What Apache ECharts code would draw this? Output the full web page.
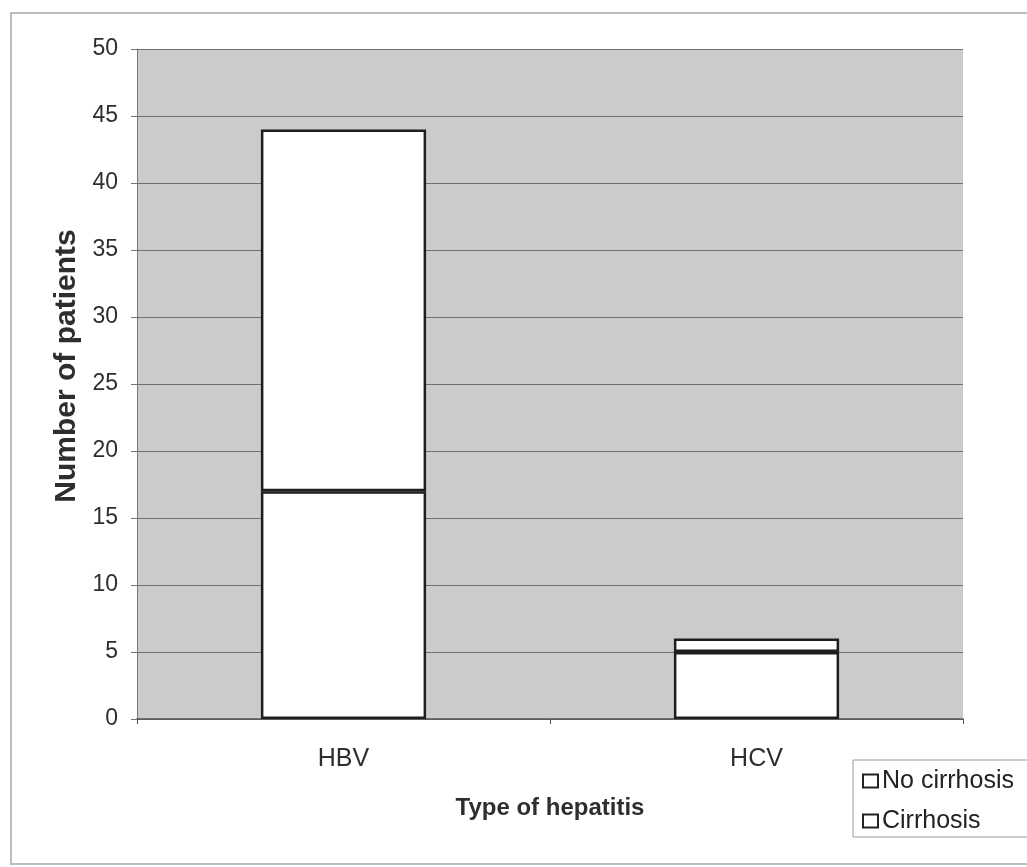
<!DOCTYPE html>
<html>
<head>
<meta charset="utf-8">
<script src="https://cdn.jsdelivr.net/npm/echarts@6/dist/echarts.min.js"></script>
<style>
html,body{margin:0;padding:0;background:#fff;}
#chart{width:1027px;height:867px;}
</style>
</head>
<body>
<div id="chart"></div>
<script>
const categories = ['HBV', 'HCV'];
const cirrhosis = [17, 5];
const noCirrhosis = [27, 1];
const yTicks = [0, 5, 10, 15, 20, 25, 30, 35, 40, 45, 50];

const chart = echarts.init(document.getElementById('chart'));
const font = 'Liberation Sans, Arial, sans-serif';
const barStyle = {color: '#ffffff', borderColor: '#1e1e1e', borderWidth: 2.5};
chart.setOption({
  animation: false,
  backgroundColor: '#ffffff',
  graphic: [{
    type: 'rect', z: -10,
    shape: {x: 11, y: 13, width: 1040, height: 851},
    style: {fill: 'none', stroke: '#bdbdbd', lineWidth: 2}
  }],
  grid: {left: 137, right: 64, top: 49, bottom: 148,
    show: true, backgroundColor: '#cbcbcb', borderWidth: 0},
  legend: {
    orient: 'vertical', left: 853, top: 760,
    data: ['No cirrhosis', 'Cirrhosis'],
    icon: 'rect', itemWidth: 15, itemHeight: 13, itemGap: 12,
    padding: [7, 14, 2, 9],
    borderColor: '#9a9a9a', borderWidth: 1, backgroundColor: '#fff',
    textStyle: {fontFamily: font, fontSize: 25, lineHeight: 28, color: '#222', padding: [0, 0, 0, -1]},
    itemStyle: {color: '#fff', borderColor: '#222', borderWidth: 2}
  },
  xAxis: {
    type: 'category', data: categories,
    name: 'Type of hepatitis', nameLocation: 'middle', nameGap: 77,
    nameTextStyle: {fontFamily: font, fontSize: 24, fontWeight: 'bold', color: '#2e2e2e'},
    axisLine: {show: true, lineStyle: {color: '#555', width: 1.5}},
    axisTick: {show: true, length: 5, lineStyle: {color: '#555'}},
    axisLabel: {fontFamily: font, fontSize: 25, color: '#2e2e2e', margin: 28}
  },
  yAxis: {
    type: 'value', min: 0, max: 50, interval: 5,
    name: 'Number of patients', nameLocation: 'middle', nameGap: 50,
    nameTextStyle: {fontFamily: font, fontSize: 30, fontWeight: 'bold', color: '#2e2e2e', padding: [0, 0, 0, 36]},
    axisLine: {show: true, lineStyle: {color: '#777', width: 1}},
    axisTick: {show: true, length: 6, lineStyle: {color: '#777'}},
    axisLabel: {fontFamily: font, fontSize: 23, color: '#2e2e2e', margin: 19,
      formatter: v => yTicks.includes(v) ? String(v) : ''},
    splitLine: {show: true, lineStyle: {color: '#707070', width: 1}}
  },
  series: [
    {name: 'Cirrhosis', type: 'bar', stack: 't', data: cirrhosis, barWidth: '40%', itemStyle: barStyle},
    {name: 'No cirrhosis', type: 'bar', stack: 't', data: noCirrhosis, barWidth: '40%', itemStyle: barStyle}
  ]
});
</script>
</body>
</html>
